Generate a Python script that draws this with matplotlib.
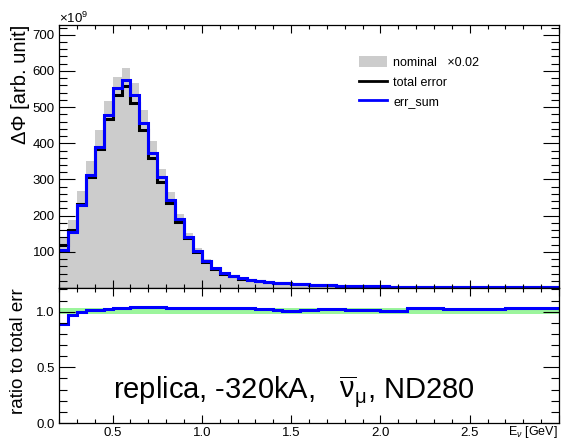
import numpy as np
import matplotlib
matplotlib.use("Agg")
import matplotlib.pyplot as plt
from matplotlib.patches import Patch
from matplotlib.lines import Line2D
from matplotlib.ticker import MultipleLocator, FixedLocator, FormatStrFormatter

plt.rcParams['font.family'] = ['Liberation Sans', 'DejaVu Sans']
plt.rcParams['mathtext.fontset'] = 'custom'
plt.rcParams['mathtext.rm'] = 'Liberation Sans'
plt.rcParams['mathtext.it'] = 'Liberation Sans:italic'

# Bin edges in E_nu [GeV], 0.05 GeV bins from 0.2 to 3.0
edges = np.round(0.2 + 0.05 * np.arange(57), 3)

# nominal flux scaled by 0.02 [1e9 arb. unit]
nominal = [140, 188, 268, 351, 437, 518, 584, 607, 566, 492,
           405, 329, 265, 204, 151, 110, 80, 59, 45, 36,
           29.5, 24.5, 21, 18, 15.8, 14.4, 12.5, 11.2, 10.4, 9.4,
           8.4, 7.5, 6.8, 6.2, 5.8, 5.4, 5.1, 4.8, 4.5, 4.2,
           4.0, 3.8, 3.6, 3.4, 3.3, 3.2, 3.1, 3.0, 2.9, 2.8,
           2.7, 2.6, 2.5, 2.4, 2.3, 2.2]

# total error [1e9 arb. unit]
total_err = [119, 160, 232, 308, 384, 466, 534, 557, 511, 437,
             358, 294, 236, 183, 137, 100, 72, 52.5, 39, 32,
             26, 21.5, 18.5, 15.8, 13.8, 12.8, 11, 9.8, 8.8, 7.8,
             7.0, 6.4, 5.8, 5.4, 5.0, 4.7, 4.4, 4.1, 3.9, 3.7,
             3.5, 3.3, 3.1, 3.0, 2.9, 2.8, 2.7, 2.6, 2.5, 2.4,
             2.3, 2.2, 2.1, 2.0, 1.9, 1.8]

# err_sum / total error (lower panel)
ratio = [0.886, 0.967, 0.994, 1.015, 1.015, 1.027, 1.033, 1.033, 1.042, 1.042,
         1.042, 1.042, 1.035, 1.035, 1.035, 1.035, 1.035, 1.035, 1.035, 1.035,
         1.03, 1.03, 1.025, 1.02, 1.012, 1.005, 1.005, 1.012, 1.012, 1.02,
         1.02, 1.02, 1.012, 1.012, 1.012, 1.012, 1.006, 1.006, 1.006, 1.03,
         1.03, 1.03, 1.03, 1.027, 1.027, 1.027, 1.027, 1.02, 1.02, 1.02,
         1.036, 1.036, 1.036, 1.036, 1.036, 1.036]

band_lo, band_hi = 0.975, 1.035

err_sum = np.array(total_err) * np.array(ratio)

W, H = 564, 443
fig = plt.figure(figsize=(W / 100, H / 100), dpi=100)
L, R = 59, 559
ax1 = fig.add_axes([L / W, 1 - 288 / H, (R - L) / W, (288 - 25) / H])
ax2 = fig.add_axes([L / W, 1 - 423 / H, (R - L) / W, (423 - 288) / H])

gray = '#cccccc'
ax1.stairs(nominal, edges, fill=True, color=gray, lw=0)
ax1.stairs(total_err, edges, baseline=None, color='black', lw=2.2)
ax1.stairs(err_sum, edges, baseline=None, color='#0000ff', lw=2.2)
ax1.set_xlim(0.2, 3.0)
ax1.set_ylim(0, 727)
ax1.yaxis.set_major_locator(FixedLocator([0, 100, 200, 300, 400, 500, 600, 700]))
ax1.yaxis.set_minor_locator(MultipleLocator(20))
ax1.set_yticklabels(['', '100', '200', '300', '400', '500', '600', '700'])
ax1.xaxis.set_major_locator(MultipleLocator(0.5))
ax1.xaxis.set_minor_locator(MultipleLocator(0.1))
ax1.tick_params(axis='x', labelbottom=False)

ax2.fill_between([0.2, 3.0], band_lo, band_hi, color='#9cf59c', lw=0)
ax2.stairs(ratio, edges, baseline=None, color='#0000ff', lw=2.2)
ax2.set_xlim(0.2, 3.0)
ax2.set_ylim(0, 1.213)
ax2.yaxis.set_major_locator(FixedLocator([0.0, 0.5, 1.0]))
ax2.yaxis.set_minor_locator(MultipleLocator(0.1))
ax2.yaxis.set_major_formatter(FormatStrFormatter('%.1f'))
ax2.xaxis.set_major_locator(FixedLocator([0.5, 1.0, 1.5, 2.0, 2.5, 3.0]))
ax2.xaxis.set_minor_locator(MultipleLocator(0.1))
ax2.set_xticklabels(['0.5', '1.0', '1.5', '2.0', '2.5', ''])

for ax in (ax1, ax2):
    ax.tick_params(which='both', direction='in', top=True, right=True,
                   labelsize=9.5, width=0.8, pad=3)
    ax.tick_params(axis='y', which='major', length=11.5)
    ax.tick_params(axis='y', which='minor', length=6)
    ax.tick_params(axis='x', which='major', length=6)
    ax.tick_params(axis='x', which='minor', length=3)
    for s in ax.spines.values():
        s.set_linewidth(0.9)

handles = [Patch(facecolor=gray, edgecolor='none'),
           Line2D([], [], color='black', lw=2),
           Line2D([], [], color='#0000ff', lw=2)]
ax1.legend(handles, ['nominal   \u00d70.02', 'total error', 'err_sum'],
           loc='upper left', bbox_to_anchor=((359 - L) / (R - L), (288 - 56) / 263),
           frameon=False, fontsize=9, handlelength=2.2, handleheight=1.0,
           handletextpad=0.55, labelspacing=0.55, borderpad=0, borderaxespad=0)

fig.text(L / W, 1 - 23 / H, r'$\times$10$^{9}$', fontsize=9.5, ha='left', va='baseline')
fig.text(21 / W, 1 - 25 / H, '\u0394\u03a6 [arb. unit]', rotation=90,
         fontsize=14.5, ha='center', va='top')
fig.text(19 / W, 1 - 288 / H, 'ratio to total err', rotation=90,
         fontsize=13.5, ha='center', va='top')
fig.text(558 / W, 3 / H, r'E$_{\nu}$ [GeV]', fontsize=9, ha='right', va='bottom')

ax2.text(0.5, 0.225, r'replica, -320kA,   $\overline{\mathrm{\nu}}_{\mathrm{\mu}}$, ND280',
         fontsize=21, ha='left', va='baseline')

fig.savefig('out.png', dpi=100)
